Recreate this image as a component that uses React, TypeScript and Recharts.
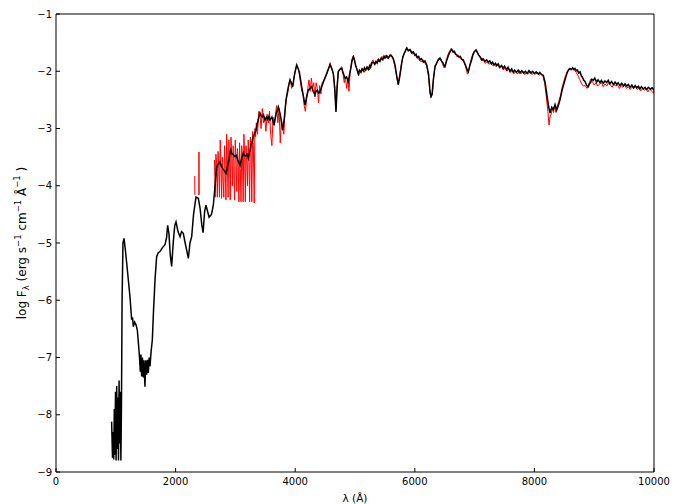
import React from 'react';
import { LineChart, Line, XAxis, YAxis } from 'recharts';

// Model spectrum (black): [wavelength Å, log F]
const blackSpectrum: [number, number][] = [
  [930, -8.12], [945, -8.75], [955, -8.3], [965, -8.78], [975, -7.9], [985, -8.7], [995, -7.6],
  [1005, -8.8], [1015, -7.5], [1025, -8.6], [1035, -7.7], [1045, -8.8], [1055, -7.4], [1065, -8.5],
  [1075, -7.6], [1085, -8.8], [1095, -7.8], [1105, -6.0], [1120, -5.0], [1137, -4.92], [1160, -5.12],
  [1182, -5.35], [1210, -5.65], [1237, -5.94], [1265, -6.34], [1280, -6.3], [1293, -6.46], [1315, -6.38],
  [1338, -6.43], [1360, -6.52], [1378, -6.75], [1394, -6.96], [1410, -7.25], [1420, -6.95], [1433, -7.33],
  [1445, -7.0], [1460, -7.35], [1470, -7.05], [1488, -7.51], [1500, -7.05], [1516, -7.3], [1530, -7.04],
  [1544, -7.27], [1558, -7.0], [1572, -7.15], [1590, -6.9], [1611, -6.69], [1630, -6.2], [1656, -5.64],
  [1683, -5.24], [1710, -5.17], [1739, -5.15], [1780, -5.08], [1823, -5.03], [1850, -4.9], [1867, -4.69],
  [1890, -4.85], [1910, -5.2], [1934, -5.41], [1960, -5.0], [1985, -4.7], [2007, -4.63], [2040, -4.8],
  [2074, -4.89], [2100, -4.8], [2129, -4.83], [2160, -5.0], [2190, -5.15], [2213, -5.27], [2240, -5.0],
  [2269, -4.89], [2300, -4.5], [2341, -4.2], [2380, -4.22], [2410, -4.4], [2440, -4.7], [2460, -4.82],
  [2485, -4.45], [2508, -4.34], [2560, -4.55], [2600, -4.5], [2631, -4.34], [2660, -4.0], [2687, -3.67],
  [2715, -3.62], [2742, -3.58], [2765, -3.66], [2790, -3.7], [2815, -3.74], [2843, -3.78], [2880, -3.6],
  [2921, -3.38], [2940, -3.44], [2960, -3.45], [2993, -3.49], [3015, -3.47], [3040, -3.55], [3077, -3.64],
  [3110, -3.5], [3133, -3.43], [3150, -3.47], [3170, -3.48], [3195, -3.45], [3216, -3.52], [3260, -3.3],
  [3300, -3.14], [3344, -3.03], [3380, -2.85], [3411, -2.73], [3430, -2.78], [3450, -2.8], [3470, -2.76],
  [3495, -2.85], [3520, -2.8], [3540, -2.84], [3560, -2.79], [3579, -2.85], [3610, -2.8], [3645, -2.94],
  [3680, -2.75], [3718, -2.62], [3750, -2.75], [3791, -3.03], [3820, -2.8], [3846, -2.5], [3880, -2.3],
  [3913, -2.15], [3935, -2.2], [3958, -2.27], [3990, -2.05], [4025, -1.89], [4045, -1.94], [4069, -2.01],
  [4090, -2.15], [4108, -2.27], [4140, -2.45], [4164, -2.59], [4190, -2.45], [4219, -2.33], [4245, -2.3],
  [4275, -2.27], [4300, -2.35], [4331, -2.41], [4350, -2.35], [4370, -2.33], [4395, -2.38], [4415, -2.36],
  [4450, -2.25], [4475, -2.18], [4498, -2.12], [4540, -2.0], [4582, -1.89], [4610, -1.95], [4637, -2.04],
  [4660, -2.3], [4682, -2.71], [4700, -2.3], [4721, -2.01], [4745, -1.97], [4777, -1.95], [4800, -2.02],
  [4833, -2.12], [4860, -2.1], [4888, -2.18], [4910, -2.05], [4930, -1.95], [4950, -1.82], [4972, -1.75],
  [4990, -1.8], [5010, -1.9], [5030, -1.96], [5055, -2.04], [5075, -1.98], [5100, -2.02], [5120, -1.96],
  [5139, -1.99], [5160, -1.94], [5180, -1.98], [5200, -1.93], [5222, -1.97], [5245, -1.9], [5260, -1.93],
  [5285, -1.85], [5306, -1.84], [5330, -1.88], [5350, -1.83], [5370, -1.86], [5390, -1.8], [5415, -1.83],
  [5440, -1.77], [5465, -1.8], [5485, -1.74], [5502, -1.77], [5530, -1.73], [5560, -1.77], [5585, -1.72],
  [5614, -1.74], [5640, -1.78], [5669, -1.89], [5700, -2.1], [5724, -2.24], [5755, -2.05], [5781, -1.86],
  [5800, -1.75], [5820, -1.7], [5845, -1.64], [5864, -1.6], [5890, -1.64], [5920, -1.62], [5945, -1.68],
  [5975, -1.66], [6000, -1.72], [6020, -1.7], [6040, -1.76], [6065, -1.74], [6087, -1.8], [6110, -1.78],
  [6143, -1.84], [6170, -1.82], [6199, -1.89], [6230, -2.05], [6255, -2.35], [6271, -2.44], [6290, -2.4],
  [6310, -2.15], [6338, -1.92], [6366, -1.86], [6390, -1.8], [6421, -1.77], [6445, -1.82], [6470, -1.85],
  [6490, -1.9], [6505, -1.92], [6530, -1.82], [6560, -1.73], [6590, -1.66], [6617, -1.62], [6640, -1.66],
  [6660, -1.65], [6680, -1.7], [6700, -1.71], [6730, -1.75], [6760, -1.74], [6785, -1.79], [6811, -1.8],
  [6830, -1.85], [6850, -1.9], [6870, -1.96], [6895, -2.01], [6920, -1.9], [6951, -1.8], [6970, -1.72],
  [6990, -1.67], [7023, -1.63], [7045, -1.67], [7070, -1.72], [7095, -1.75], [7119, -1.8], [7140, -1.78],
  [7170, -1.83], [7200, -1.8], [7229, -1.84], [7255, -1.82], [7280, -1.87], [7300, -1.84], [7325, -1.89],
  [7350, -1.86], [7370, -1.9], [7395, -1.87], [7420, -1.93], [7450, -1.9], [7475, -1.95], [7500, -1.91],
  [7537, -1.97], [7560, -1.93], [7590, -2.0], [7620, -1.96], [7647, -2.02], [7670, -1.98], [7700, -2.02],
  [7730, -1.98], [7759, -2.03], [7790, -1.99], [7820, -2.03], [7850, -2.0], [7880, -2.04], [7910, -1.99],
  [7940, -2.03], [7970, -2.0], [8000, -2.04], [8030, -2.01], [8065, -2.05], [8090, -2.02], [8120, -2.06],
  [8149, -2.07], [8180, -2.2], [8206, -2.39], [8235, -2.6], [8261, -2.73], [8290, -2.63], [8316, -2.67],
  [8345, -2.58], [8373, -2.68], [8400, -2.6], [8428, -2.5], [8470, -2.3], [8512, -2.15], [8550, -2.02],
  [8575, -1.97], [8595, -1.95], [8620, -1.97], [8640, -1.94], [8660, -1.97], [8679, -1.95], [8700, -1.99],
  [8720, -1.98], [8740, -2.03], [8763, -2.01], [8785, -2.08], [8800, -2.1], [8825, -2.16], [8846, -2.18],
  [8875, -2.25], [8902, -2.27], [8920, -2.22], [8940, -2.2], [8960, -2.14], [8985, -2.16], [9010, -2.12],
  [9040, -2.19], [9065, -2.15], [9097, -2.2], [9120, -2.16], [9150, -2.21], [9180, -2.17], [9209, -2.2],
  [9235, -2.16], [9260, -2.22], [9290, -2.18], [9320, -2.23], [9350, -2.19], [9376, -2.23], [9400, -2.2],
  [9430, -2.25], [9460, -2.21], [9490, -2.26], [9515, -2.22], [9543, -2.26], [9570, -2.23], [9600, -2.28],
  [9630, -2.24], [9660, -2.29], [9685, -2.25], [9711, -2.29], [9740, -2.26], [9765, -2.31], [9790, -2.27],
  [9820, -2.31], [9850, -2.28], [9878, -2.32], [9905, -2.28], [9940, -2.31], [9970, -2.29], [10000, -2.33],
];

// Observed spectrum (red): [wavelength Å, log F]; null = gap
const redSpectrum: [number, number | null][] = [
  [2320, -3.83], [2322, -4.16], [2350, null], [2389, -4.16], [2391, -3.41], [2393, -4.16], [2500, null],
  [2650, -3.55], [2662, -4.2], [2674, -3.45], [2686, -3.6], [2698, -4.2], [2710, -3.4], [2722, -3.7],
  [2734, -4.2], [2746, -3.2], [2758, -3.6], [2770, -4.22], [2782, -3.5], [2794, -3.85], [2806, -4.2],
  [2818, -3.3], [2830, -3.7], [2842, -4.25], [2854, -3.1], [2866, -3.6], [2878, -4.2], [2890, -3.2],
  [2902, -3.5], [2914, -4.25], [2926, -3.15], [2938, -3.45], [2950, -4.0], [2962, -3.3], [2974, -3.6],
  [2986, -4.25], [2998, -3.2], [3010, -3.55], [3022, -4.1], [3034, -3.35], [3046, -3.6], [3058, -4.28],
  [3070, -3.25], [3082, -3.7], [3094, -4.28], [3106, -3.3], [3118, -3.5], [3130, -4.28], [3142, -3.1],
  [3154, -3.45], [3166, -4.28], [3178, -3.3], [3190, -3.55], [3202, -4.0], [3214, -3.2], [3226, -3.5],
  [3238, -4.28], [3250, -3.15], [3262, -3.3], [3274, -4.28], [3288, -3.05], [3300, -3.3], [3314, -4.3],
  [3326, -3.0], [3338, -3.15], [3350, -2.9], [3370, -3.1], [3390, -2.7], [3410, -2.75], [3430, -3.0],
  [3450, -2.65], [3470, -2.9], [3490, -2.8], [3510, -3.05], [3530, -2.75], [3550, -2.9], [3570, -2.7],
  [3590, -3.1], [3610, -3.3], [3630, -2.8], [3650, -2.95], [3670, -2.75], [3690, -2.6], [3710, -2.9],
  [3730, -2.65], [3750, -3.25], [3770, -2.85], [3790, -3.0], [3810, -3.1], [3830, -2.7], [3850, -2.5],
  [3880, -2.35], [3900, -2.2], [3920, -2.15], [3940, -2.3], [3960, -2.25], [3990, -2.05], [4020, -1.9],
  [4045, -1.95], [4070, -2.05], [4090, -2.2], [4110, -2.35], [4130, -2.4], [4150, -2.6], [4170, -2.7],
  [4190, -2.5], [4210, -2.3], [4230, -2.15], [4250, -2.35], [4270, -2.12], [4290, -2.3], [4310, -2.2],
  [4330, -2.45], [4350, -2.2], [4370, -2.3], [4390, -2.55], [4410, -2.25], [4430, -2.4], [4450, -2.2],
  [4480, -2.15], [4500, -2.1], [4530, -2.05], [4560, -1.95], [4585, -1.85], [4610, -1.95], [4640, -2.05],
  [4660, -2.25], [4682, -2.65], [4700, -2.25], [4720, -2.0], [4750, -1.95], [4780, -1.92], [4800, -2.05],
  [4820, -2.2], [4840, -2.1], [4860, -2.3], [4880, -2.15], [4900, -2.35], [4920, -2.0], [4950, -1.78],
  [4975, -1.72], [5000, -1.85], [5030, -1.95], [5060, -2.08], [5090, -2.0], [5120, -1.95], [5150, -2.02],
  [5180, -1.95], [5210, -1.92], [5240, -1.98], [5270, -1.86], [5300, -1.8], [5330, -1.88], [5360, -1.84],
  [5390, -1.78], [5420, -1.8], [5450, -1.74], [5480, -1.78], [5510, -1.72], [5540, -1.78], [5570, -1.74],
  [5600, -1.7], [5630, -1.76], [5660, -1.88], [5690, -2.05], [5720, -2.22], [5750, -2.05], [5780, -1.85],
  [5810, -1.72], [5840, -1.65], [5870, -1.58], [5900, -1.65], [5930, -1.62], [5960, -1.7], [5990, -1.68],
  [6020, -1.74], [6050, -1.78], [6080, -1.8], [6110, -1.84], [6140, -1.8], [6170, -1.86], [6200, -1.9],
  [6230, -2.1], [6255, -2.4], [6275, -2.46], [6295, -2.38], [6315, -2.1], [6340, -1.9], [6370, -1.84],
  [6400, -1.8], [6430, -1.78], [6460, -1.86], [6490, -1.94], [6520, -1.85], [6550, -1.72], [6580, -1.65],
  [6610, -1.6], [6640, -1.68], [6670, -1.66], [6700, -1.74], [6730, -1.72], [6760, -1.78], [6790, -1.8],
  [6820, -1.84], [6850, -1.92], [6880, -2.05], [6910, -1.95], [6940, -1.8], [6970, -1.7], [7000, -1.64],
  [7030, -1.62], [7060, -1.7], [7090, -1.76], [7120, -1.82], [7150, -1.8], [7180, -1.86], [7210, -1.83],
  [7240, -1.88], [7270, -1.85], [7300, -1.9], [7330, -1.88], [7360, -1.92], [7390, -1.88], [7420, -1.95],
  [7450, -1.9], [7480, -1.98], [7510, -1.94], [7540, -2.0], [7570, -1.96], [7600, -2.02], [7630, -1.98],
  [7660, -2.04], [7690, -2.0], [7720, -2.05], [7750, -1.99], [7780, -2.04], [7810, -2.0], [7840, -2.06],
  [7870, -2.01], [7900, -2.05], [7930, -2.0], [7960, -2.06], [7990, -2.02], [8020, -2.05], [8050, -2.03],
  [8080, -2.07], [8110, -2.04], [8140, -2.08], [8170, -2.2], [8200, -2.45], [8225, -2.7], [8245, -2.94],
  [8260, -2.8], [8280, -2.75], [8300, -2.65], [8320, -2.72], [8340, -2.6], [8360, -2.72], [8380, -2.62],
  [8400, -2.55], [8430, -2.45], [8460, -2.3], [8490, -2.18], [8520, -2.08], [8550, -2.0], [8580, -1.96],
  [8610, -1.98], [8640, -1.95], [8670, -1.98], [8700, -2.02], [8730, -2.08], [8760, -2.15], [8790, -2.22],
  [8820, -2.26], [8850, -2.25], [8880, -2.3], [8910, -2.22], [8940, -2.14], [8970, -2.18], [9000, -2.24],
  [9030, -2.2], [9060, -2.26], [9090, -2.22], [9120, -2.2], [9150, -2.27], [9180, -2.22], [9210, -2.26],
  [9240, -2.2], [9270, -2.24], [9300, -2.28], [9330, -2.22], [9360, -2.26], [9390, -2.24], [9420, -2.3],
  [9450, -2.25], [9480, -2.28], [9510, -2.24], [9540, -2.3], [9570, -2.27], [9600, -2.32], [9630, -2.28],
  [9660, -2.3], [9690, -2.26], [9720, -2.32], [9750, -2.29], [9780, -2.34], [9810, -2.3], [9840, -2.33],
  [9870, -2.31], [9900, -2.36], [9930, -2.3], [9960, -2.35], [9990, -2.38], [10000, -2.33],
];

const xTicks = [0, 2000, 4000, 6000, 8000, 10000];
const yTicks = [-9, -8, -7, -6, -5, -4, -3, -2, -1];

const blackData = blackSpectrum.map(([x, y]) => ({ x, y }));
const redData = redSpectrum.map(([x, y]) => ({ x, y }));

const FONT = '"DejaVu Sans", sans-serif';
const tickStyle = { fontFamily: FONT, fontSize: 10, fill: '#000' };
const fmt = (v: number) => String(v).replace('-', '\u2212');

const YLabel = () => (
  <text
    x={26}
    y={243}
    transform="rotate(-90, 26, 243)"
    textAnchor="middle"
    fontFamily={FONT}
    fontSize={12}
    fill="#000"
  >
    <tspan>log F</tspan>
    <tspan fontSize={8.5} dy={2.5}>λ</tspan>
    <tspan dy={-2.5}> (erg s</tspan>
    <tspan fontSize={8.5} dy={-5}>−1</tspan>
    <tspan dy={5}> cm</tspan>
    <tspan fontSize={8.5} dy={-5}>−1</tspan>
    <tspan dy={5}> Å</tspan>
    <tspan fontSize={8.5} dy={-6.5}>−1</tspan>
    <tspan dy={6.5}> )</tspan>
  </text>
);

export default function App() {
  return (
    <div style={{ position: 'absolute', left: 0, top: 0, background: '#fff' }}>
      <LineChart
        width={677}
        height={504}
        margin={{ top: 0, right: 0, bottom: 0, left: 0 }}
      >
        <XAxis
          xAxisId={0}
          dataKey="x"
          type="number"
          domain={[0, 10000]}
          ticks={xTicks}
          allowDataOverflow
          height={32}
          stroke="#000"
          tickSize={-4}
          tickMargin={10}
          tick={tickStyle}
          label={{ value: 'λ (Å)', position: 'insideBottom', offset: 2, style: { fontFamily: FONT, fontSize: 10.5, fill: '#000' } }}
        />
        <XAxis
          xAxisId="top"
          orientation="top"
          dataKey="x"
          type="number"
          domain={[0, 10000]}
          ticks={xTicks}
          height={14}
          stroke="#000"
          tickSize={-4}
          tickFormatter={() => ''}
        />
        <YAxis
          yAxisId={0}
          type="number"
          domain={[-9, -1]}
          ticks={yTicks}
          allowDataOverflow
          width={56}
          stroke="#000"
          tickSize={-4}
          tickMargin={8}
          tick={tickStyle}
          tickFormatter={fmt}
          label={<YLabel />}
        />
        <YAxis
          yAxisId="right"
          orientation="right"
          type="number"
          domain={[-9, -1]}
          ticks={yTicks}
          width={23}
          stroke="#000"
          tickSize={-4}
          tickFormatter={() => ''}
        />
        <Line
          data={redData}
          dataKey="y"
          stroke="#ff0000"
          strokeWidth={1}
          dot={false}
          connectNulls={false}
          isAnimationActive={false}
        />
        <Line
          data={blackData}
          dataKey="y"
          stroke="#000"
          strokeWidth={1.5}
          dot={false}
          isAnimationActive={false}
        />
      </LineChart>
    </div>
  );
}
